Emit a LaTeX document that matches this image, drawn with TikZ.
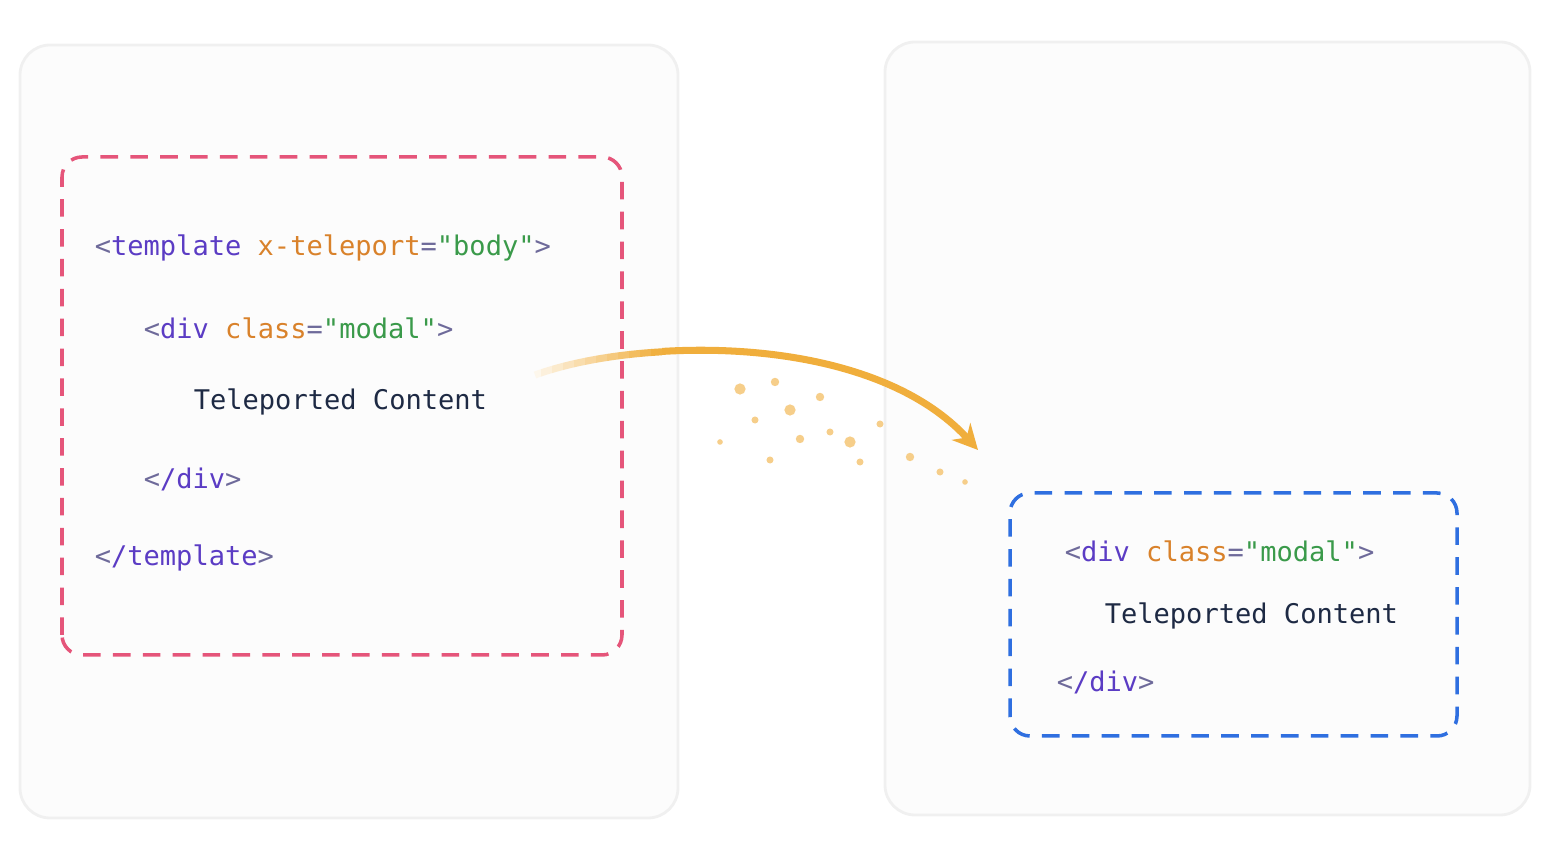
\documentclass[tikz,border=0pt]{standalone}
\usepackage{fontspec}
\setmonofont{DejaVu Sans Mono}
\usetikzlibrary{arrows.meta}
\definecolor{tagc}{HTML}{5B3CC4}
\definecolor{brk}{HTML}{6E6A9A}
\definecolor{attc}{HTML}{D9822B}
\definecolor{strc}{HTML}{3A9A4A}
\definecolor{txtc}{HTML}{1E2A44}
\definecolor{pinkc}{HTML}{E5557A}
\definecolor{bluec}{HTML}{2F6FE0}
\definecolor{arrc}{HTML}{F0AE3C}
\newcommand{\tg}[1]{\textcolor{brk}{<}\textcolor{tagc}{#1}}
\newcommand{\gt}{\textcolor{brk}{>}}
\begin{document}
\begin{tikzpicture}[line width = 1pt,
		card/.style = {draw = gray!12, fill = gray!2, rounded corners = 0.3cm,
		line width = 0.8pt},
		frame/.style = {dashed, line width = 1pt, rounded corners = 0.2cm,
		dash pattern = on 5pt off 3.5pt},
		code/.style = {anchor = west, inner sep = 0pt,
		font = \ttfamily\fontsize{7.7}{9}\selectfont, text = txtc}]
	\useasboundingbox (0,0) rectangle (15.58,8.52);

	% cards
	\draw [card] (0.20,0.34) rectangle (6.78,8.07);
	\draw [card] (8.85,0.37) rectangle (15.30,8.10);

	% source and target frames
	\draw [frame, pinkc] (0.62,1.97) rectangle (6.22,6.95);
	\draw [frame, bluec] (10.10,1.16) rectangle (14.57,3.59);

	% source code
	\node [code] (s_1) at (0.93,6.04) {\tg{template} \textcolor{attc}{x-teleport}\textcolor{brk}{=}\textcolor{strc}{"body"}\gt};
	\node [code] (s_2) at (1.42,5.24) {\tg{div} \textcolor{attc}{class}\textcolor{brk}{=}\textcolor{strc}{"modal"}\gt};
	\node [code] (s_3) at (1.92,4.50) {Teleported Content};
	\node [code] (s_4) at (1.42,3.73) {\tg{/div}\gt};
	\node [code] (s_5) at (0.93,2.94) {\tg{/template}\gt};

	% target code
	\node [code] (t_1) at (10.63,3.01) {\tg{div} \textcolor{attc}{class}\textcolor{brk}{=}\textcolor{strc}{"modal"}\gt};
	\node [code] (t_2) at (11.03,2.36) {Teleported Content};
	\node [code] (t_3) at (10.55,1.70) {\tg{/div}\gt};

	% teleport arrow, fading in at its start
	\coordinate (from) at (5.35,4.77);
	\coordinate (to) at (9.78,4.02);
	\foreach \i in {0,...,11} {
		\begin{scope}
			\clip (5.30+0.11*\i,4.5) rectangle (5.41+0.11*\i,5.3);
			\draw [arrc!\the\numexpr 10+8*\i\relax, line width = 2pt]
				(from) .. controls (6.40,5.15) and (8.70,5.20) .. (to);
		\end{scope}
	}
	\begin{scope}
		\clip (6.62,3.5) rectangle (10.2,5.5);
		\draw [arrc, line width = 2pt, -{Stealth[length = 0.25cm, width = 0.25cm]}]
			(from) .. controls (6.40,5.15) and (8.70,5.20) .. (to);
	\end{scope}

	% sparkles
	\foreach \x/\y/\r in {7.40/4.63/1.6, 7.75/4.70/1.2, 7.90/4.42/1.6, 8.20/4.55/1.2,
		7.55/4.32/1.0, 8.00/4.13/1.2, 8.30/4.20/1.0, 8.50/4.10/1.6, 8.80/4.28/1.0,
		7.70/3.92/1.0, 8.60/3.90/1.0, 9.10/3.95/1.2, 9.40/3.80/1.0, 7.20/4.10/0.8,
		9.65/3.70/0.8}
		\fill [arrc!60] (\x,\y) circle (\r pt);
\end{tikzpicture}
\end{document}
